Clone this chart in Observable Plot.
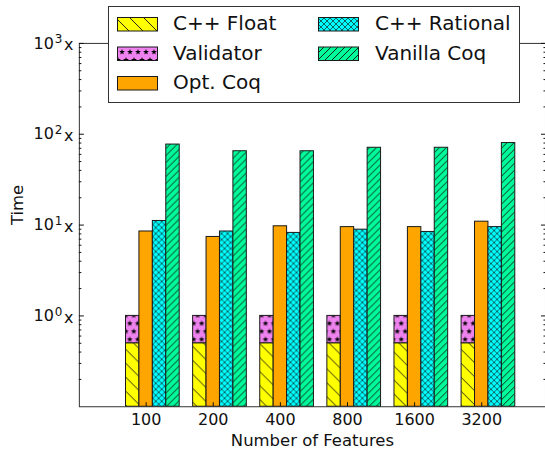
<!DOCTYPE html>
<html><head><meta charset="utf-8">
<script src="https://cdn.jsdelivr.net/npm/d3@7"></script>
<script src="https://cdn.jsdelivr.net/npm/@observablehq/plot@0.6"></script>
<style>
body{margin:0;background:#fff;font-family:"DejaVu Sans",sans-serif;}
#wrap{position:relative;width:545px;height:453px;overflow:hidden;}
#legend{position:absolute;left:0;top:0;pointer-events:none;}
</style></head>
<body>
<div id="wrap">
<div id="chart"></div>
<svg id="legend" width="545" height="110" xmlns="http://www.w3.org/2000/svg">
  <defs>
    <pattern id="p-float" patternUnits="userSpaceOnUse" width="14" height="14">
      <rect width="14" height="14" fill="#ffff00"/>
      <path d="M0,0L14,14M-2,12L2,16M12,-2L16,2" stroke="#111" stroke-width="0.9"/>
    </pattern>
    <pattern id="p-valid" patternUnits="userSpaceOnUse" width="8" height="16">
      <rect width="8" height="16" fill="#ee82ee"/>
      <path class="star" data-cx="2" data-cy="4" fill="#000"/>
      <path class="star" data-cx="6" data-cy="12" fill="#000"/>
      <path class="star" data-cx="10" data-cy="4" fill="#000"/>
      <path class="star" data-cx="-2" data-cy="12" fill="#000"/>
    </pattern>
    <pattern id="p-rat" patternUnits="userSpaceOnUse" width="6" height="6">
      <rect width="6" height="6" fill="#00ffff"/>
      <path d="M0,0L6,6M-1,5L1,7M5,-1L7,1M0,6L6,0M-1,1L1,-1M5,7L7,5" stroke="#111" stroke-width="0.65"/>
    </pattern>
    <pattern id="p-van" patternUnits="userSpaceOnUse" width="7" height="7">
      <rect width="7" height="7" fill="#00fa9a"/>
      <path d="M0,7L7,0M-1,1L1,-1M6,8L8,6" stroke="#111" stroke-width="0.9"/>
    </pattern>
  </defs>
  <rect x="108.5" y="6.5" width="411" height="96" fill="#fff" stroke="#333" stroke-width="1"/>
  <g id="legend-items" font-family="DejaVu Sans" font-size="20" fill="#111"></g>
</svg>
</div>
<script>
// ---- data ----
const features = ["100", "200", "400", "800", "1600", "3200"];
const seriesNames = ["C++ Float", "Validator", "Opt. Coq", "C++ Rational", "Vanilla Coq"];
const seriesFills = ["url(#p-float)", "url(#p-valid)", "#ffa500", "url(#p-rat)", "url(#p-van)"];
const cppFloat    = [0.5, 0.5, 0.5, 0.5, 0.5, 0.5];
const validator   = [0.5, 0.5, 0.5, 0.5, 0.5, 0.5]; // stacked on top of C++ Float
const optCoq      = [8.5, 7.4, 9.7, 9.5, 9.5, 10.9];
const cppRational = [11.1, 8.5, 8.2, 8.9, 8.4, 9.5];
const vanillaCoq  = [77, 65, 65, 71, 71, 80];
const yTickValues = [1, 10, 100, 1000];

// star shapes for the Validator hatch
function starPath(cx, cy, R, r) {
  let p = "";
  for (let k = 0; k < 10; k++) {
    const a = -Math.PI / 2 + k * Math.PI / 5, rad = k % 2 ? r : R;
    p += (k ? "L" : "M") + (cx + rad * Math.cos(a)).toFixed(2) + "," + (cy + rad * Math.sin(a)).toFixed(2);
  }
  return p + "Z";
}
document.querySelectorAll("path.star").forEach(el => {
  el.setAttribute("d", starPath(+el.dataset.cx, +el.dataset.cy, 3.0, 1.25));
});

// ---- build table ----
const barW = 0.2, yBase = 0.1;
const rows = [];
features.forEach((f, i) => {
  rows.push({x1: i, x2: i + barW, y1: yBase, y2: cppFloat[i], fill: seriesFills[0]});
  rows.push({x1: i, x2: i + barW, y1: cppFloat[i], y2: cppFloat[i] + validator[i], fill: seriesFills[1]});
  rows.push({x1: i + barW, x2: i + 2 * barW, y1: yBase, y2: optCoq[i], fill: seriesFills[2]});
  rows.push({x1: i + 2 * barW, x2: i + 3 * barW, y1: yBase, y2: cppRational[i], fill: seriesFills[3]});
  rows.push({x1: i + 3 * barW, x2: i + 4 * barW, y1: yBase, y2: vanillaCoq[i], fill: seriesFills[4]});
});
const xTicks = features.map((f, i) => i + 1.5 * barW);
const minorY = [];
for (let e = -1; e < 3; e++) for (let k = 2; k < 10; k++) minorY.push(k * Math.pow(10, e));
const blank = () => "";

const chart = Plot.plot({
  width: 546, height: 453,
  marginLeft: 79, marginRight: 0, marginTop: 43, marginBottom: 46,
  style: {fontFamily: "DejaVu Sans", fontSize: "16px", color: "#111", background: "transparent"},
  x: {type: "linear", domain: [-0.695, 6.25], axis: null, label: null},
  y: {type: "log", domain: [0.1, 1000], axis: null, label: null},
  color: {type: "identity"},
  marks: [
    Plot.rect(rows, {x1: "x1", x2: "x2", y1: "y1", y2: "y2", fill: "fill", stroke: "#1a1a1a", strokeWidth: 1}),
    Plot.frame({stroke: "#333"}),
    Plot.axisY(yTickValues, {anchor: "left", tickSize: 0, tickPadding: 6, label: null, fontSize: 16,
      tickFormat: d => "10^" + Math.round(Math.log10(d)) + "x"}),
    Plot.axisY(yTickValues, {anchor: "left", tickSize: -5, tickFormat: blank, label: null}),
    Plot.axisY(minorY, {anchor: "left", tickSize: -2.5, tickFormat: blank, label: null}),
    Plot.axisY(yTickValues, {anchor: "right", tickSize: -5, tickFormat: blank, label: null}),
    Plot.axisY(minorY, {anchor: "right", tickSize: -2.5, tickFormat: blank, label: null}),
    Plot.axisX(xTicks, {anchor: "bottom", tickSize: 0, tickPadding: 7, label: null, fontSize: 16,
      tickFormat: d => features[Math.round(d - 1.5 * barW)]}),
    Plot.axisX(xTicks, {anchor: "bottom", tickSize: -4, tickFormat: blank, label: null}),
    Plot.axisX(xTicks, {anchor: "top", tickSize: -4, tickFormat: blank, label: null}),
    Plot.text(["Number of Features"], {frameAnchor: "bottom", dy: 39, fontSize: 16.5}),
    Plot.text(["Time"], {frameAnchor: "left", dx: -62, rotate: -90, fontSize: 16.5})
  ]
});
document.getElementById("chart").appendChild(chart);

// superscript exponents in the y tick labels (10^3x -> 10 with raised 3, then x)
d3.select(chart).selectAll("text").each(function() {
  const t = this.textContent;
  const m = /^10\^(-?\d+)x$/.exec(t);
  if (!m) return;
  const sel = d3.select(this);
  sel.text(null);
  sel.append("tspan").text("10");
  sel.append("tspan").attr("dy", "-0.45em").attr("font-size", "12px").attr("dx", "1").text(m[1]);
  sel.append("tspan").attr("dy", "0.45em").attr("dx", "1.5").text("x");
});

// ---- legend ----
const g = d3.select("#legend-items");
const legendPos = [[117, 17, 173, 30], [117, 46.5, 173, 59.5], [117, 76, 173, 89], [318, 17, 375, 30], [318, 46.5, 375, 59.5]];
seriesNames.forEach((name, s) => {
  const [px, py, tx, ty] = legendPos[s];
  g.append("rect").attr("x", px + 0.5).attr("y", py + 0.5).attr("width", 40).attr("height", 13.5)
    .attr("fill", seriesFills[s]).attr("stroke", "#1a1a1a").attr("stroke-width", 1);
  g.append("text").attr("x", tx).attr("y", ty).text(name);
});
</script>
</body></html>
